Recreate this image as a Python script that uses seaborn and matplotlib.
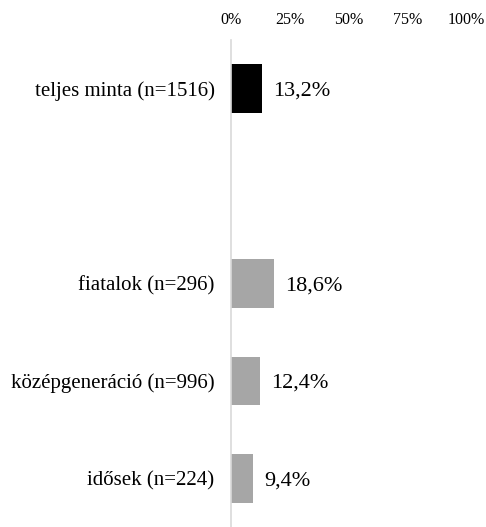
import matplotlib
matplotlib.use("Agg")
import matplotlib.pyplot as plt
import seaborn as sns
import pandas as pd

categories = ["teljes minta (n=1516)", "fiatalok (n=296)", "középgeneráció (n=996)", "idősek (n=224)"]
values = [13.2, 18.6, 12.4, 9.4]
value_labels = ["13,2%", "18,6%", "12,4%", "9,4%"]
bar_colors = ["#000000", "#a6a6a6", "#a6a6a6", "#a6a6a6"]
order = ["teljes minta (n=1516)", " ", "fiatalok (n=296)", "középgeneráció (n=996)", "idősek (n=224)"]
ticks = [0, 25, 50, 75, 100]
tick_labels = ["0%", "25%", "50%", "75%", "100%"]

sns.set_theme(style="white")
plt.rcParams["font.family"] = ["Liberation Serif", "DejaVu Serif"]

df = pd.DataFrame({"cat": categories, "val": values})

fig = plt.figure(figsize=(4.86, 5.27), dpi=100)
ax = fig.add_axes([230.5 / 486, 0.0, 236 / 486, 1 - 40 / 527])

sns.barplot(data=df, y="cat", x="val", order=order, hue="cat", hue_order=categories,
            palette=bar_colors, width=0.5, legend=False, ax=ax, orient="h",
            saturation=1, edgecolor="none")

ax.set_xlim(0, 100)
ax.set_ylim(4.5, -0.5)
ax.set_xticks(ticks)
ax.set_xticklabels(tick_labels, fontsize=11.5)
ax.xaxis.tick_top()
ax.tick_params(axis="x", length=0, pad=9, colors="black")
ax.tick_params(axis="y", length=0, pad=11.5, labelsize=15, colors="black")
ax.set_xlabel("")
ax.set_ylabel("")
for s in ["top", "right", "bottom"]:
    ax.spines[s].set_visible(False)
ax.spines["left"].set_color("#d9d9d9")
ax.spines["left"].set_linewidth(1.2)

for cat, v, lab in zip(categories, values, value_labels):
    ypos = order.index(cat)
    ax.annotate(lab, xy=(v, ypos), xytext=(8, 0), textcoords="offset points",
                va="center_baseline", ha="left", fontsize=16, color="black")

fig.savefig("out.png", dpi=100)
